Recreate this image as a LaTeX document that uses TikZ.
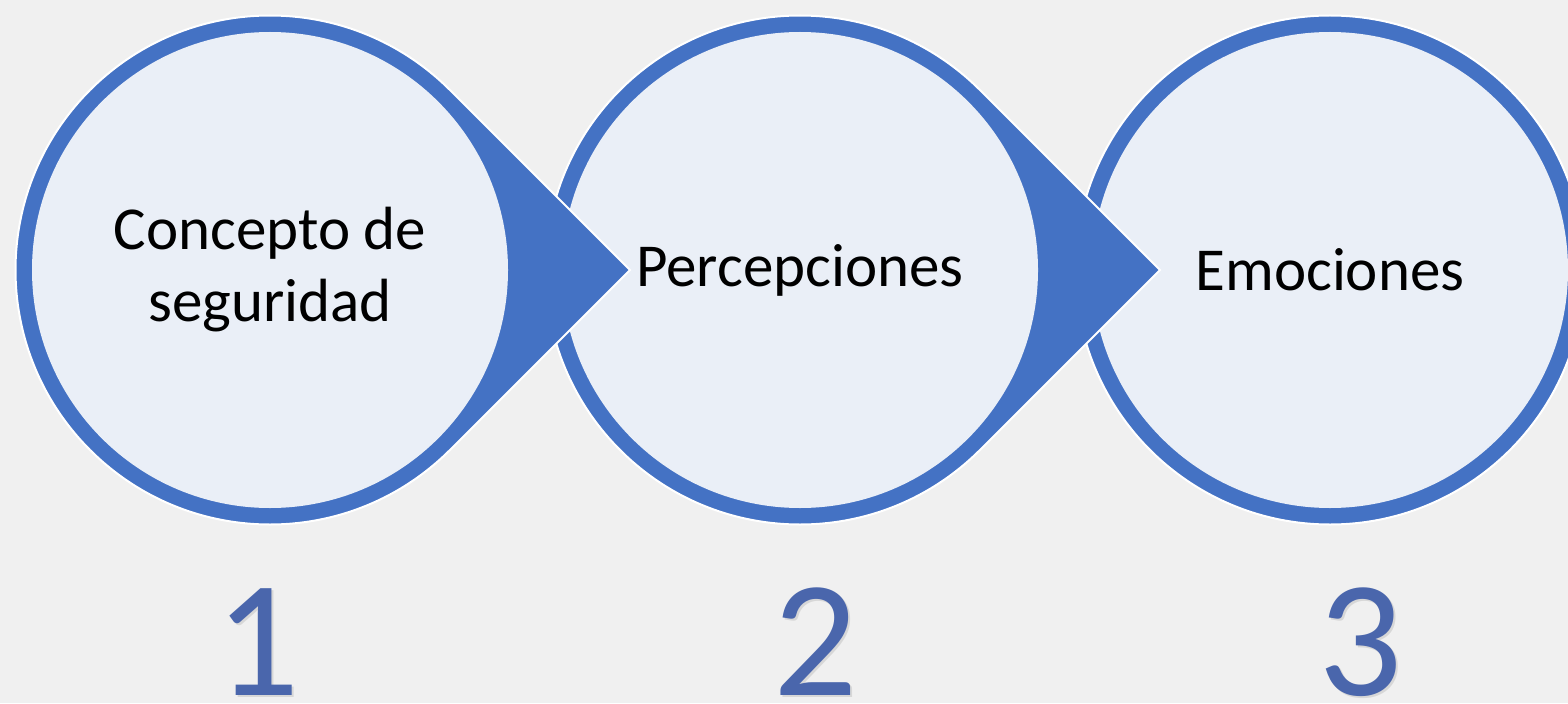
\documentclass[tikz,border=0pt]{standalone}
\usepackage{fontspec}
\setmainfont{Carlito}
\usetikzlibrary{calc}
\definecolor{bggray}{HTML}{F0F0F0}
\definecolor{ringblue}{HTML}{4472C4}
\definecolor{innerblue}{HTML}{EAEFF7}
\definecolor{numblue}{HTML}{4A66AC}
\tikzset{
  arrowshape/.style={fill=ringblue, draw=white, line width=1pt, line join=miter},
  innerdisc/.style={fill=innerblue},
  steptext/.style={font=\fontsize{30.5}{36}\selectfont, align=center, text=black},
  stepnum/.style={font=\fontsize{83}{90}\selectfont, text=numblue, anchor=base, inner sep=0pt},
  numshadow/.style={font=\fontsize{83}{90}\selectfont, text=black, opacity=0.1, anchor=base, inner sep=0pt},
}
\begin{document}
\begin{tikzpicture}[x=0.5pt,y=0.5pt]
\pgfmathsetmacro{\outr}{254.5};
\pgfmathsetmacro{\innr}{238};
\pgfmathsetmacro{\tipx}{\outr*1.41421};
  \useasboundingbox (0,0) rectangle (1568,703);
  \clip (0,0) rectangle (1568,703);
  \fill[bggray] (0,0) rectangle (1568,703);
  \coordinate (c1) at (270,433);
  \coordinate (c2) at (800,433);
  \coordinate (c3) at (1330,433);
  % right to left, so each arrow lies over the next circle
  \draw[arrowshape] (c3) circle[radius=\outr];
  \fill[innerdisc] (c3) circle[radius=\innr];
  \draw[arrowshape] ($(c2)+(45:\outr)$) arc[start angle=45, end angle=315, radius=\outr] -- ($(c2)+(\tipx,0)$) -- cycle;
  \fill[innerdisc] (c2) circle[radius=\innr];
  \draw[arrowshape] ($(c1)+(45:\outr)$) arc[start angle=45, end angle=315, radius=\outr] -- ($(c1)+(\tipx,0)$) -- cycle;
  \fill[innerdisc] (c1) circle[radius=\innr];
  \node[steptext] (t1) at (c1) {Concepto de\\seguridad};
  \node[steptext] (t2) at (c2) {Percepciones};
  \node[steptext] (t3) at (c3) {Emociones};
  \node[numshadow] (s1) at (260,6) {1};
  \node[numshadow] (s2) at (818,6) {2};
  \node[numshadow] (s3) at (1363,6) {3};
  \node[stepnum] (n1) at (258,8) {1};
  \node[stepnum] (n2) at (816,8) {2};
  \node[stepnum] (n3) at (1361,8) {3};
\end{tikzpicture}
\end{document}
